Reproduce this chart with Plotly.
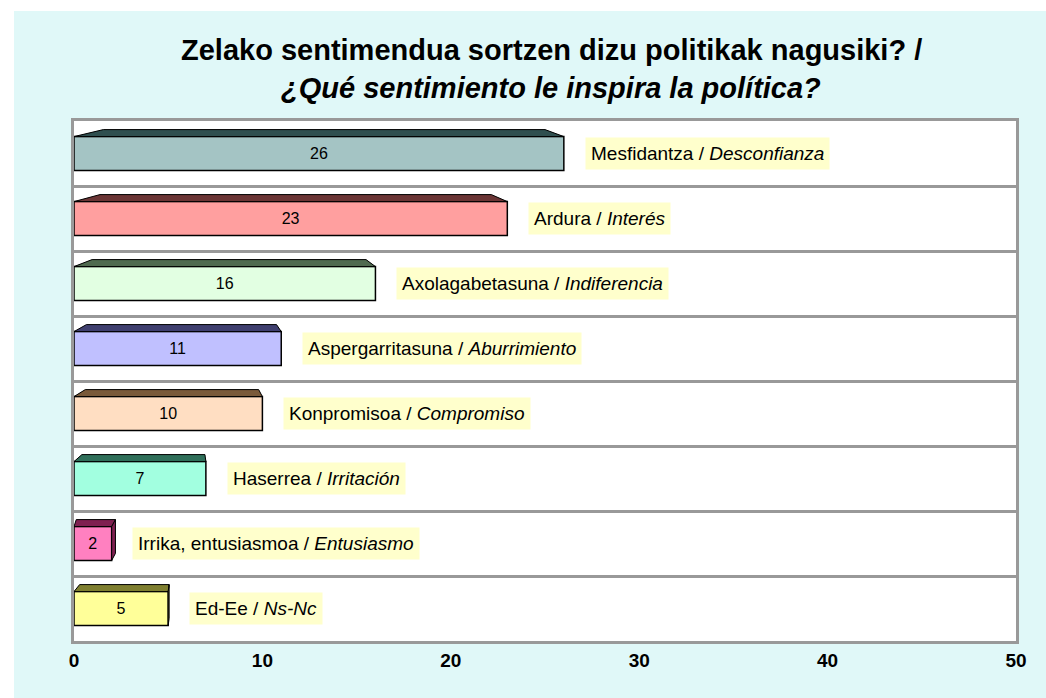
import plotly.graph_objects as go

# ---- data ----
labels_eu = ["Mesfidantza", "Ardura", "Axolagabetasuna", "Aspergarritasuna",
             "Konpromisoa", "Haserrea", "Irrika, entusiasmoa", "Ed-Ee"]
labels_es = ["Desconfianza", "Interés", "Indiferencia", "Aburrimiento",
             "Compromiso", "Irritación", "Entusiasmo", "Ns-Nc"]
values = [26, 23, 16, 11, 10, 7, 2, 5]
bar_colors = ["#A4C4C4", "#FF9F9F", "#E2FFE2", "#C0C0FF",
              "#FFDEC2", "#A2FFE0", "#FF80C0", "#FFFF99"]
top_colors = ["#2F4F4F", "#6B3535", "#4F6A4F", "#3F3F6F",
              "#7A5A3A", "#2F6F5A", "#7F2050", "#7F7F30"]
x_ticks = [0, 10, 20, 30, 40, 50]
title_l1 = "Zelako sentimendua sortzen dizu politikak nagusiki? /"
title_l2 = "¿Qué sentimiento le inspira la política?"

FONT = "Liberation Sans, Arial, sans-serif"
pos = list(range(len(values)))
BW = 0.52      # bar thickness (row units)
DEPTH = 0.108  # 3d depth (row units)

fig = go.Figure()

fig.add_trace(go.Bar(
    x=values, y=pos, orientation="h", width=BW,
    marker=dict(color=bar_colors, line=dict(color="black", width=1.5)),
    text=[str(v) for v in values], textposition="inside",
    insidetextanchor="middle", constraintext="none",
    textfont=dict(family=FONT, size=16, color="black"),
    hoverinfo="skip", showlegend=False,
))

# pseudo-3D top and side faces derived from the values
for i, v in enumerate(values):
    yt = i - BW / 2
    yb = i + BW / 2
    dl = 0.06 * v
    s = 0.3 - 0.05 * v
    xs = [0, v, v + s, dl, 0]
    ys = [yt, yt, yt - DEPTH, yt - DEPTH, yt]
    fig.add_trace(go.Scatter(x=xs, y=ys, fill="toself", mode="lines",
                             fillcolor=top_colors[i],
                             line=dict(color="black", width=1),
                             hoverinfo="skip", showlegend=False))
    if s > 0:
        fig.add_trace(go.Scatter(x=[v, v + s, v + s, v, v],
                                 y=[yt, yt - DEPTH, yb - DEPTH, yb, yt],
                                 fill="toself", mode="lines",
                                 fillcolor=top_colors[i],
                                 line=dict(color="black", width=1),
                                 hoverinfo="skip", showlegend=False))

annotations = []
for i, v in enumerate(values):
    annotations.append(dict(
        x=v + 1.1, y=i, xref="x", yref="y", xanchor="left", yanchor="middle",
        text=f"{labels_eu[i]} / <i>{labels_es[i]}</i>", showarrow=False,
        bgcolor="#FFFFCC", borderpad=5,
        font=dict(family=FONT, size=19, color="black"),
    ))

W, H = 1046, 698
ML, MR, MT, MB = 74, 30, 121, 57
PW, PH = W - ML - MR, H - MT - MB

def px(xp):
    return (xp - ML) / PW

def py(yp):
    return (H - MB - yp) / PH

annotations.append(dict(x=px(551), y=py(50), xref="paper", yref="paper",
                        text=f"<b>{title_l1}</b>", showarrow=False,
                        xanchor="center", yanchor="middle",
                        font=dict(family=FONT, size=29, color="black")))
annotations.append(dict(x=px(551), y=py(88), xref="paper", yref="paper",
                        text=f"<b><i>{title_l2}</i></b>", showarrow=False,
                        xanchor="center", yanchor="middle",
                        font=dict(family=FONT, size=29, color="black")))

fig.update_layout(
    width=W, height=H,
    margin=dict(l=ML, r=MR, t=MT, b=MB),
    paper_bgcolor="#E0F8F8", plot_bgcolor="white",
    annotations=annotations,
    shapes=[dict(type="rect", xref="paper", yref="paper", layer="below",
                 x0=px(-5), x1=px(14), y0=py(710), y1=py(-5),
                 fillcolor="white", line=dict(width=0)),
            dict(type="rect", xref="paper", yref="paper", layer="below",
                 x0=px(-5), x1=px(1060), y0=py(11), y1=py(-5),
                 fillcolor="white", line=dict(width=0))],
    xaxis=dict(range=[0, 50], tickvals=x_ticks, showgrid=False, zeroline=False,
               showline=True, linecolor="#999999", linewidth=3, mirror=True,
               ticks="", tickfont=dict(family=FONT, size=19, color="black", weight="bold")),
    yaxis=dict(range=[7.5, -0.5], tickvals=[k + 0.5 for k in range(len(values) - 1)],
               showticklabels=False, showgrid=True, gridcolor="#999999", gridwidth=2.5,
               zeroline=False, showline=True, linecolor="#999999", linewidth=3,
               mirror=True, ticks=""),
)

fig.write_html("out.html", config={"displayModeBar": False},
               post_script="document.body.style.margin='0';document.body.style.padding='0';")
